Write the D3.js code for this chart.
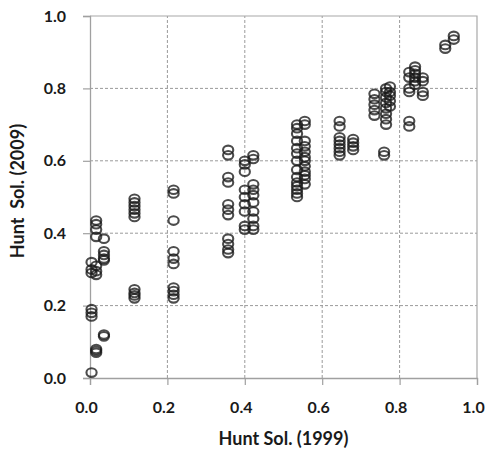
<!DOCTYPE html>
<html>
<head>
<meta charset="utf-8">
<script src="https://cdn.jsdelivr.net/npm/d3@7"></script>
<style>
  html, body { margin: 0; padding: 0; background: #fff; }
  svg { display: block; }
  .tick text { font-family: Lato, "Open Sans", sans-serif; font-weight: 700; font-size: 16px; fill: #1a1a1a; }
</style>
</head>
<body>
<svg id="chart" width="486" height="450"></svg>
<script>
// Hunt solution values: each x value (1999) with the 2009 values measured at it
const hunt1999 = [0.004, 0.016, 0.036, 0.115, 0.216, 0.357, 0.40, 0.422, 0.535, 0.555,
                  0.645, 0.68, 0.735, 0.76, 0.765, 0.775, 0.825, 0.84, 0.86, 0.918, 0.94];
const hunt2009 = [
  [0.32, 0.30, 0.29, 0.19, 0.18, 0.17, 0.015],
  [0.435, 0.425, 0.41, 0.39, 0.31, 0.295, 0.285, 0.08, 0.075, 0.07],
  [0.385, 0.35, 0.34, 0.33, 0.325, 0.12, 0.115],
  [0.495, 0.485, 0.475, 0.465, 0.455, 0.445, 0.245, 0.235, 0.228, 0.22],
  [0.52, 0.51, 0.435, 0.35, 0.33, 0.315, 0.25, 0.24, 0.23, 0.22],
  [0.63, 0.615, 0.555, 0.54, 0.48, 0.465, 0.45, 0.385, 0.37, 0.355, 0.345],
  [0.60, 0.59, 0.57, 0.52, 0.50, 0.48, 0.46, 0.42, 0.41],
  [0.615, 0.605, 0.535, 0.52, 0.505, 0.485, 0.46, 0.44, 0.42, 0.41],
  [0.70, 0.69, 0.675, 0.655, 0.635, 0.62, 0.60, 0.575, 0.555, 0.54, 0.53, 0.52, 0.51, 0.50],
  [0.71, 0.70, 0.655, 0.64, 0.625, 0.61, 0.60, 0.585, 0.57, 0.56, 0.55, 0.535],
  [0.71, 0.695, 0.665, 0.655, 0.645, 0.635, 0.625, 0.615],
  [0.66, 0.65, 0.64, 0.63],
  [0.785, 0.77, 0.755, 0.74, 0.725],
  [0.625, 0.615],
  [0.80, 0.79, 0.775, 0.76, 0.745, 0.73, 0.715, 0.70],
  [0.805, 0.79, 0.78, 0.765, 0.75],
  [0.845, 0.83, 0.80, 0.79, 0.71, 0.695],
  [0.86, 0.85, 0.84, 0.83, 0.82, 0.81],
  [0.83, 0.82, 0.79, 0.78],
  [0.92, 0.91],
  [0.945, 0.935]
];
const tickValues = [0, 0.2, 0.4, 0.6, 0.8, 1.0];
const xTitle = "Hunt Sol. (1999)";
const yTitle = "Hunt  Sol. (2009)";

const points = [];
hunt1999.forEach((x, i) => hunt2009[i].forEach(y => points.push({ x, y })));

const margin = { left: 90, right: 9, top: 16, bottom: 72 };
const W = 486, H = 450;
const svg = d3.select("#chart");

const x = d3.scaleLinear().domain([0, 1]).range([margin.left, W - margin.right]);
const y = d3.scaleLinear().domain([0, 1]).range([H - margin.bottom, margin.top]);

const gridColor = "#9a9a9a";

// dashed grid
svg.append("g")
  .selectAll("line")
  .data(tickValues.slice(1, -1))
  .join("line")
  .attr("x1", d => x(d)).attr("x2", d => x(d))
  .attr("y1", y(0)).attr("y2", y(1))
  .attr("stroke", gridColor).attr("stroke-width", 1)
  .attr("stroke-dasharray", "3,2");
svg.append("g")
  .selectAll("line")
  .data(tickValues.slice(1, -1))
  .join("line")
  .attr("y1", d => y(d)).attr("y2", d => y(d))
  .attr("x1", x(0)).attr("x2", x(1))
  .attr("stroke", gridColor).attr("stroke-width", 1)
  .attr("stroke-dasharray", "3,2");

// plot frame (top and right)
svg.append("path")
  .attr("d", `M${x(0)},${y(1)}H${x(1)}V${y(0)}`)
  .attr("fill", "none").attr("stroke", "#a8a8a8").attr("stroke-width", 1.2);

// axes
const xAxis = svg.append("g")
  .attr("transform", `translate(0,${y(0)})`)
  .call(d3.axisBottom(x).tickValues(tickValues).tickFormat(d3.format(".1f")).tickSize(7).tickPadding(17));
xAxis.selectAll(".tick text").attr("dx", -4);
const yAxis = svg.append("g")
  .attr("transform", `translate(${x(0)},0)`)
  .call(d3.axisLeft(y).tickValues(tickValues).tickFormat(d3.format(".1f")).tickSize(7).tickPadding(17));
[xAxis, yAxis].forEach(g => {
  g.select(".domain").attr("stroke", "#a0a0a0").attr("stroke-width", 1.3);
  g.selectAll(".tick line").attr("stroke", "#a0a0a0").attr("stroke-width", 1.2);
});

// markers: open rings, slightly wider than tall
svg.append("g")
  .selectAll("ellipse")
  .data(points)
  .join("ellipse")
  .attr("cx", d => x(d.x))
  .attr("cy", d => y(d.y))
  .attr("rx", 5.1)
  .attr("ry", 4.3)
  .attr("fill", "none")
  .attr("stroke", "#1a1a1a")
  .attr("stroke-opacity", 0.78)
  .attr("stroke-width", 2.1);

// axis titles
const titleFont = sel => sel
  .style("font-family", "Lato, 'Open Sans', sans-serif")
  .style("font-weight", 700)
  .style("font-size", "18px")
  .style("white-space", "pre")
  .attr("fill", "#1a1a1a");
svg.append("text")
  .attr("x", (x(0) + x(1)) / 2).attr("y", 445)
  .attr("text-anchor", "middle")
  .call(titleFont)
  .text(xTitle);
svg.append("text")
  .attr("transform", `translate(24,${(y(0) + y(1)) / 2 - 6}) rotate(-90)`)
  .attr("text-anchor", "middle")
  .call(titleFont)
  .text(yTitle);
</script>
</body>
</html>
